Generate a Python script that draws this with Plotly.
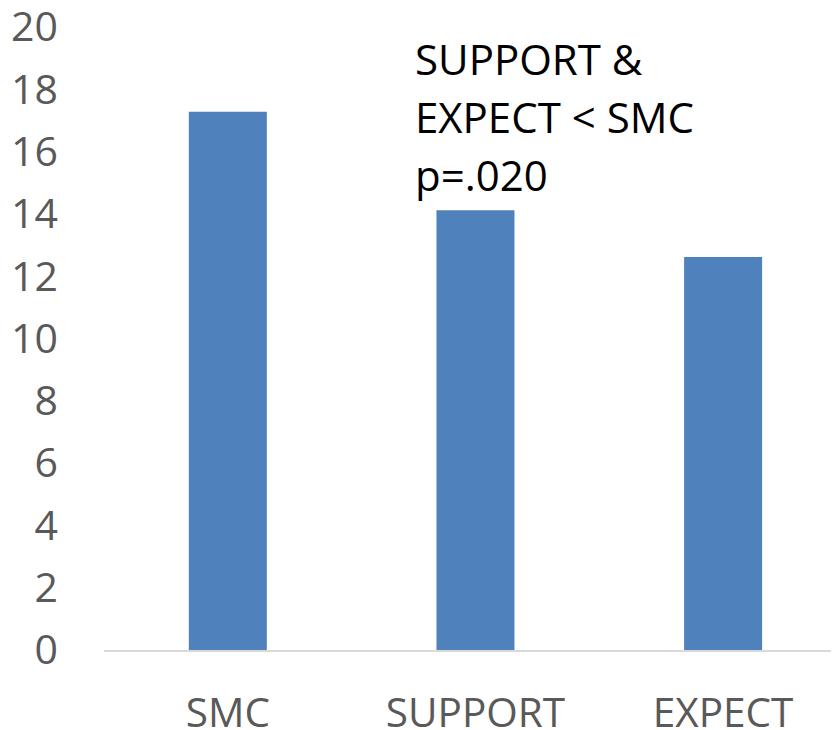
import plotly.graph_objects as go

categories = ["SMC", "SUPPORT", "EXPECT"]
values = [17.28, 14.12, 12.62]
y_ticks = [0, 2, 4, 6, 8, 10, 12, 14, 16, 18, 20]
note_lines = ["SUPPORT &", "EXPECT < SMC", "p=.020"]

FONT = "Open Sans"

fig = go.Figure()
fig.add_trace(go.Bar(
    x=categories, y=values,
    marker=dict(color="#4f81bd", line=dict(width=0)),
    width=0.315,
))

fig.update_layout(
    width=831, height=722,
    margin=dict(l=96, r=0, t=19, b=80, autoexpand=False),
    plot_bgcolor="white", paper_bgcolor="white",
    showlegend=False,
    font=dict(family=FONT, color="#595959", size=40),
    xaxis=dict(
        range=[-0.5, 2.468],
        showgrid=False, zeroline=False,
        showline=True, linecolor="#d9d9d9", linewidth=2,
        ticks="", ticklabelstandoff=26,
        tickfont=dict(family=FONT, size=40.5, color="#595959"),
        automargin=False, ticklabeloverflow="allow",
        fixedrange=True,
    ),
    yaxis=dict(
        range=[0, 20],
        tickvals=y_ticks,
        showgrid=False, zeroline=False, showline=False,
        ticks="", ticklabelstandoff=45,
        tickfont=dict(family=FONT, size=41, color="#595959"),
        automargin=False, ticklabeloverflow="allow",
        fixedrange=True,
    ),
)

line_y = [0.998, 0.905, 0.812]
for txt, yy in zip(note_lines, line_y):
    fig.add_annotation(
        text=txt, xref="paper", yref="paper",
        x=(413 - 8 - 96) / 735, y=yy, xanchor="left", yanchor="top",
        showarrow=False,
        font=dict(family=FONT, size=42, color="#000000"),
    )

fig.write_html("out.html")
